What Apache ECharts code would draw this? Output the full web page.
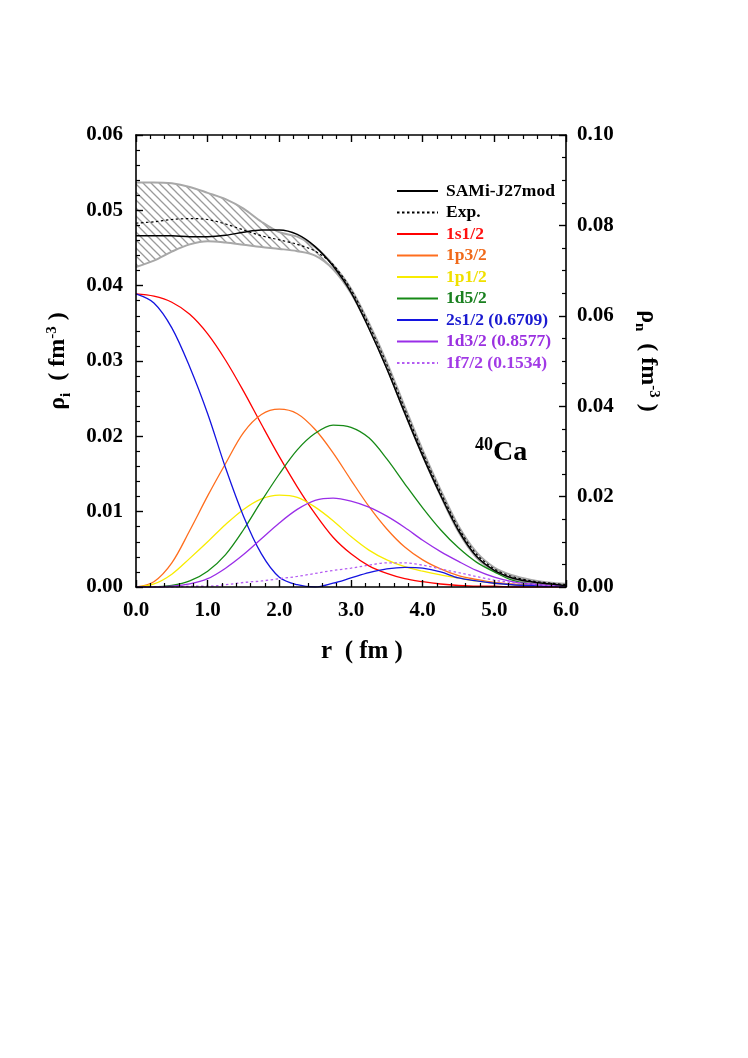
<!DOCTYPE html>
<html>
<head>
<meta charset="utf-8">
<script src="https://cdn.jsdelivr.net/npm/echarts@6/dist/echarts.min.js"></script>
<style>
html,body{margin:0;padding:0;background:#fff;}
#chart{width:748px;height:1058px;}
</style>
</head>
<body>
<div id="chart"></div>
<script>
// radial grid (fm)
const r = [0,0.25,0.5,0.75,1,1.25,1.5,1.75,2,2.25,2.5,2.75,3,3.25,3.5,3.75,4,4.25,4.5,4.75,5,5.25,5.5,5.75,6];

// total densities (right axis, rho_n units)
const samiTotal = [0.0777,0.0777,0.0777,0.0775,0.0775,0.0778,0.0785,0.0790,0.0790,0.0780,0.0753,0.0710,0.0652,0.0572,0.0483,0.0385,0.0290,0.0203,0.0125,0.0068,0.0037,0.0020,0.0012,0.0007,0.0003];
const expTotal  = [0.0805,0.0808,0.0813,0.0815,0.0813,0.0803,0.0790,0.0777,0.0768,0.0758,0.0743,0.0713,0.0658,0.0580,0.0492,0.0394,0.0298,0.0210,0.0131,0.0073,0.0040,0.0023,0.0014,0.0009,0.0005];
const bandUpper = [0.0895,0.0895,0.0893,0.0885,0.0872,0.0858,0.0837,0.0808,0.0785,0.0775,0.0752,0.0713,0.0660,0.0584,0.0497,0.0399,0.0303,0.0215,0.0135,0.0077,0.0043,0.0026,0.0016,0.0010,0.0007];
const bandLower = [0.0708,0.0722,0.0742,0.0758,0.0765,0.0762,0.0757,0.0752,0.0748,0.0743,0.0733,0.0703,0.0650,0.0574,0.0485,0.0385,0.0290,0.0202,0.0122,0.0065,0.0035,0.0018,0.0010,0.0005,0.0003];

// single-particle densities (left axis, rho_i units)
const s1 = [0.0389,0.0386,0.0378,0.0362,0.0336,0.0301,0.0260,0.0216,0.0173,0.0133,0.0097,0.0066,0.0044,0.0028,0.0018,0.0011,0.0007,0.0004,0.0002,0.0001,0.0001,0,0,0,0];
const p3 = [0,0.0007,0.0032,0.0075,0.0121,0.0164,0.0205,0.0229,0.0236,0.0230,0.0209,0.0178,0.0142,0.0107,0.0077,0.0053,0.0036,0.0024,0.0015,0.0010,0.0006,0.0004,0.0002,0.0001,0.0001];
const p1 = [0,0.0004,0.0017,0.0038,0.0060,0.0083,0.0103,0.0117,0.0122,0.0119,0.0106,0.0088,0.0067,0.0049,0.0036,0.0027,0.0021,0.0016,0.0012,0.0008,0.0005,0.0003,0.0002,0.0001,0.0001];
const d5 = [0,0,0.0002,0.0008,0.0021,0.0043,0.0076,0.0114,0.0150,0.0182,0.0204,0.0215,0.0212,0.0198,0.0170,0.0137,0.0105,0.0076,0.0052,0.0033,0.0020,0.0009,0.0004,0.0002,0.0001];
const s2 = [0.0389,0.0377,0.0344,0.0292,0.0230,0.0158,0.0094,0.0044,0.0013,0.0003,0,0.0005,0.0012,0.0019,0.0024,0.0026,0.0025,0.0020,0.0012,0.0008,0.0005,0.0003,0.0002,0.0001,0.0001];
const d3 = [0,0,0.0001,0.0004,0.0011,0.0025,0.0043,0.0064,0.0085,0.0103,0.0115,0.0118,0.0114,0.0106,0.0094,0.0079,0.0062,0.0047,0.0034,0.0022,0.0013,0.0007,0.0004,0.0002,0.0001];
const f7 = [0,0,0,0.0001,0.0001,0.0003,0.0006,0.0008,0.0011,0.0014,0.0018,0.0022,0.0025,0.0029,0.0032,0.0032,0.0029,0.0024,0.0019,0.0014,0.0009,0.0006,0.0004,0.0002,0.0001];

const names = ['SAMi-J27mod','Exp.','1s1/2','1p3/2','1p1/2','1d5/2','2s1/2 (0.6709)','1d3/2 (0.8577)','1f7/2 (0.1534)'];
const textColors = ['#000000','#000000','#ff1010','#f06a1a','#f0e000','#1a8020','#1a1ad0','#9a30e0','#a23ae6'];

const FONT = '"Liberation Serif","Times New Roman",serif';
const SM = 0.33;

// hatch pattern for the experimental band
const hc = document.createElement('canvas');
hc.width = 8; hc.height = 8;
const hx = hc.getContext('2d');
hx.fillStyle = '#ffffff'; hx.fillRect(0,0,8,8);
hx.strokeStyle = '#9a9a9a';
hx.lineWidth = 1.3;
hx.beginPath();
hx.moveTo(-2,-2); hx.lineTo(10,10);
hx.moveTo(-2,6); hx.lineTo(2,10);
hx.moveTo(6,-2); hx.lineTo(10,2);
hx.stroke();

const pts = arr => r.map((x,i)=>[x, arr[i]]);

function single(name, arr, color, dashed){
  return {
    name, type:'line', yAxisIndex:0, data: pts(arr), smooth:SM, showSymbol:false, symbol:'none',
    lineStyle:{color, width:1.3, type: dashed ? [2.5,2.5] : 'solid'}, itemStyle:{color}, z:3
  };
}

const chart = echarts.init(document.getElementById('chart'));
const axisLabelStyle = {fontFamily:FONT, fontWeight:'bold', fontSize:21, color:'#000'};
const nameRich = {
  m:{fontFamily:FONT, fontWeight:'bold', fontSize:24, color:'#000', verticalAlign:'bottom', padding:[0,0,4,0]},
  sub:{fontFamily:FONT, fontWeight:'bold', fontSize:15, color:'#000', verticalAlign:'bottom'},
  sup:{fontFamily:FONT, fontWeight:'bold', fontSize:15, color:'#000', verticalAlign:'bottom', padding:[0,0,14,0]}
};

chart.setOption({
  animation:false,
  backgroundColor:'#fff',
  grid:{left:136, right:182, top:135, bottom:471, containLabel:false},
  legend:{
    orient:'vertical', left:391, top:177, itemWidth:41, itemHeight:14, itemGap:3.5,
    itemStyle:{opacity:0},
    textStyle:{fontFamily:FONT, fontWeight:'bold', fontSize:17.5, lineHeight:17, padding:[0,0,0,3]},
    data: names.map((n,i)=>({name:n, textStyle:{color:textColors[i]}}))
  },
  xAxis:[{
    type:'value', min:0, max:6, interval:1, position:'bottom', z:10,
    axisLine:{onZero:false, lineStyle:{color:'#000', width:1.6}},
    axisTick:{inside:true, length:7, lineStyle:{color:'#000', width:1.4}},
    minorTick:{show:true, splitNumber:5, length:4, lineStyle:{color:'#000', width:1.2}},
    splitLine:{show:false},
    axisLabel:{...axisLabelStyle, margin:13, formatter:v=>v.toFixed(1)},
    name:'r  ( fm )', nameLocation:'middle', nameGap:52,
    nameTextStyle:{fontFamily:FONT, fontWeight:'bold', fontSize:25, color:'#000', padding:[0,0,0,22]}
  },{
    type:'value', min:0, max:6, interval:1, position:'top', z:10,
    axisLine:{onZero:false, lineStyle:{color:'#000', width:1.6}},
    axisTick:{inside:true, length:7, lineStyle:{color:'#000', width:1.4}},
    minorTick:{show:true, splitNumber:5, length:4, lineStyle:{color:'#000', width:1.2}},
    splitLine:{show:false}, axisLabel:{show:false}
  }],
  yAxis:[{
    type:'value', min:0, max:0.06, interval:0.01, position:'left', z:10,
    axisLine:{show:true, onZero:false, lineStyle:{color:'#000', width:1.6}},
    axisTick:{show:true, inside:true, length:7, lineStyle:{color:'#000', width:1.4}},
    minorTick:{show:true, splitNumber:5, length:4, lineStyle:{color:'#000', width:1.2}},
    splitLine:{show:false},
    axisLabel:{...axisLabelStyle, margin:13, formatter:v=>v.toFixed(2)},
    name:'{m|ρ}{sub|i}{m|  ( fm}{sup|-3}{m| )}', nameLocation:'middle', nameGap:62, nameRotate:90,
    nameTextStyle:{fontFamily:FONT, fontWeight:'bold', fontSize:24, color:'#000', rich:nameRich}
  },{
    type:'value', min:0, max:0.10, interval:0.02, position:'right', z:10,
    axisLine:{show:true, onZero:false, lineStyle:{color:'#000', width:1.6}},
    axisTick:{show:true, inside:true, length:7, lineStyle:{color:'#000', width:1.4}},
    minorTick:{show:true, splitNumber:4, length:4, lineStyle:{color:'#000', width:1.2}},
    splitLine:{show:false},
    axisLabel:{...axisLabelStyle, margin:11, formatter:v=>v.toFixed(2)},
    name:'{m|ρ}{sub|n}{m|  ( fm}{sup|-3}{m| )}', nameLocation:'middle', nameGap:66, nameRotate:-90,
    nameTextStyle:{fontFamily:FONT, fontWeight:'bold', fontSize:24, color:'#000', rich:nameRich}
  }],
  graphic:[{
    type:'text', left:475, top:436, z:10,
    style:{
      text:'{s|40}{c|Ca}',
      rich:{
        s:{fontFamily:FONT, fontWeight:'bold', fontSize:18, fill:'#000', verticalAlign:'bottom', padding:[0,0,13,0]},
        c:{fontFamily:FONT, fontWeight:'bold', fontSize:28, fill:'#000', verticalAlign:'bottom'}
      }
    }
  }],
  series:[
    // hatched fill from the upper edge down to zero
    {name:'bandUpperFill', type:'line', yAxisIndex:1, data:pts(bandUpper), smooth:SM, showSymbol:false, symbol:'none',
     lineStyle:{width:0, opacity:0}, areaStyle:{color:{image:hc, repeat:'repeat'}, opacity:1}, z:1, silent:true},
    // white fill from the lower edge down to zero, plus lower edge line
    {name:'bandLowerFill', type:'line', yAxisIndex:1, data:pts(bandLower), smooth:SM, showSymbol:false, symbol:'none',
     lineStyle:{color:'#a8a8a8', width:2}, areaStyle:{color:'#ffffff', opacity:1}, z:1, silent:true},
    // upper edge line
    {name:'bandUpperLine', type:'line', yAxisIndex:1, data:pts(bandUpper), smooth:SM, showSymbol:false, symbol:'none',
     lineStyle:{color:'#a8a8a8', width:2}, z:1, silent:true},
    single('1s1/2', s1, '#ff0000', false),
    single('1p3/2', p3, '#ff6e1e', false),
    single('1p1/2', p1, '#f8ec00', false),
    single('1d5/2', d5, '#168a16', false),
    single('2s1/2 (0.6709)', s2, '#1414e0', false),
    single('1d3/2 (0.8577)', d3, '#9a2ee8', false),
    single('1f7/2 (0.1534)', f7, '#b45cf2', true),
    {name:'SAMi-J27mod', type:'line', yAxisIndex:1, data:pts(samiTotal), smooth:SM, showSymbol:false, symbol:'none',
     lineStyle:{color:'#000', width:1.5}, itemStyle:{color:'#000'}, z:5},
    {name:'Exp.', type:'line', yAxisIndex:1, data:pts(expTotal), smooth:SM, showSymbol:false, symbol:'none',
     lineStyle:{color:'#000', width:1.2, type:[2.5,2.5]}, itemStyle:{color:'#000'}, z:5}
  ]
});
</script>
</body>
</html>
